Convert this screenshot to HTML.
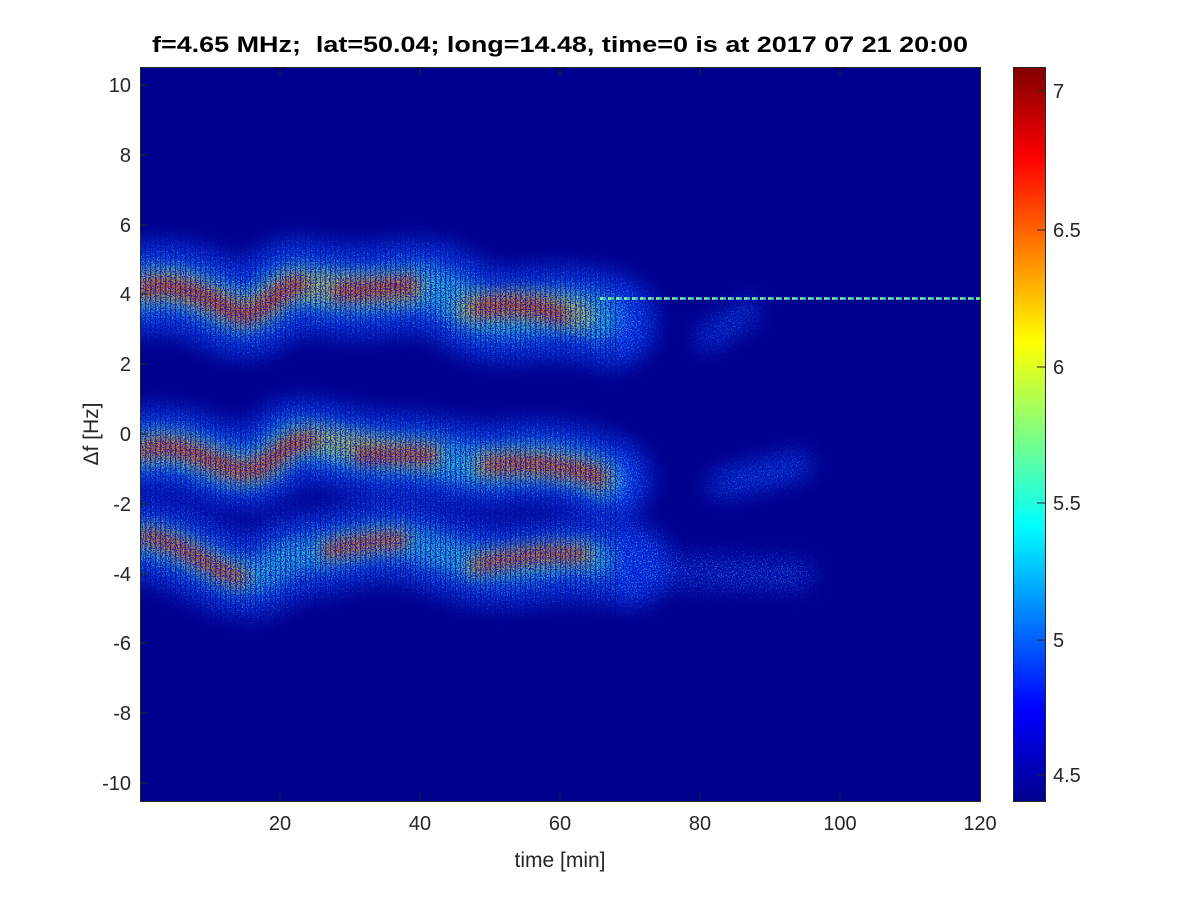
<!DOCTYPE html>
<html><head><meta charset="utf-8"><style>
body{margin:0;background:#fff;}
svg{display:block;font-family:"Liberation Sans",sans-serif;}
</style></head><body>
<svg width="1200" height="900" viewBox="0 0 1200 900">
<defs>
<filter id="b1" x="-20%" y="-50%" width="140%" height="200%"><feGaussianBlur stdDeviation="12"/></filter>
<filter id="b2" x="-20%" y="-50%" width="140%" height="200%"><feGaussianBlur stdDeviation="8"/></filter>
<filter id="b3" x="-20%" y="-50%" width="140%" height="200%"><feGaussianBlur stdDeviation="7"/></filter>
<filter id="noiseC" x="0" y="0" width="100%" height="100%">
<feTurbulence type="fractalNoise" baseFrequency="0.8" numOctaves="1" seed="3"/>
<feColorMatrix values="0 0 0 0 0.2  0 0 0 0 0.9  0 0 0 0 1  0 0 0 5 -2.6"/>
</filter>
<filter id="noiseD" x="0" y="0" width="100%" height="100%">
<feTurbulence type="fractalNoise" baseFrequency="0.85" numOctaves="1" seed="7"/>
<feColorMatrix values="0 0 0 0 0  0 0 0 0 0  0 0 0 0 0.55  0 0 0 5 -2.4"/>
</filter>
<pattern id="stripes" width="5" height="10" patternUnits="userSpaceOnUse"><rect x="0" y="0" width="1.2" height="10" fill="#000050"/></pattern>
<mask id="bandmask" maskUnits="userSpaceOnUse" x="0" y="0" width="1200" height="900">
<g fill="none" stroke="#fff" stroke-linecap="round" filter="url(#b1)">
<path d="M140 290 C180 280 210 300 235 310 S280 280 300 285 S360 295 400 288 S450 300 480 312 S560 300 610 322" stroke-width="80"/>
<path d="M140 450 C180 440 210 465 240 468 S280 440 300 440 S360 455 400 455 S470 470 500 465 S570 460 610 480" stroke-width="70"/>
<path d="M140 540 C180 540 210 570 240 575 S280 555 300 555 S360 540 390 540 S460 565 500 565 S570 550 630 565" stroke-width="75"/>
<path d="M650 570 L800 575" stroke-width="25"/>
<path d="M720 485 L800 465" stroke-width="18"/>
<path d="M705 340 L750 310" stroke-width="16"/>
</g>
</mask>
<linearGradient id="jet" x1="0" y1="0" x2="0" y2="1">
<stop offset="0" stop-color="#800000"/><stop offset="0.125" stop-color="#ff0000"/>
<stop offset="0.375" stop-color="#ffff00"/><stop offset="0.5" stop-color="#80ff80"/><stop offset="0.625" stop-color="#00ffff"/>
<stop offset="0.875" stop-color="#0000ff"/><stop offset="1" stop-color="#00008f"/>
</linearGradient>
<clipPath id="pc"><rect x="140" y="67" width="840" height="734"/></clipPath>
</defs>
<rect x="140" y="67" width="840" height="734" fill="#00008f"/>
<g clip-path="url(#pc)">
<g fill="none" stroke-linecap="round" filter="url(#b1)">
<path d="M140 290 C180 280 210 300 235 310 S280 280 300 285 S360 295 400 288 S450 300 480 312 S560 300 610 322" stroke="#0040f0" stroke-width="85" opacity="0.85"/>
<path d="M140 450 C180 440 210 465 240 468 S280 440 300 440 S360 455 400 455 S470 470 500 465 S570 460 610 480" stroke="#0040f0" stroke-width="75" opacity="0.85"/>
<path d="M140 540 C180 540 210 570 240 575 S280 555 300 555 S360 540 390 540 S460 565 500 565 S570 550 630 565" stroke="#0040f0" stroke-width="75" opacity="0.8"/>
<path d="M720 485 L800 465" stroke="#0050ff" stroke-width="18" opacity="0.7"/>
<path d="M705 340 L750 310" stroke="#0050ff" stroke-width="14" opacity="0.7"/>
<path d="M660 572 L800 575" stroke="#0040e0" stroke-width="20" opacity="0.5"/>
</g>
<g fill="none" stroke-linecap="round" filter="url(#b2)">
<path d="M140 290 C180 280 210 300 235 310 S280 280 300 285 S360 295 400 288 S450 300 480 312 S560 300 600 318" stroke="#20c8e0" stroke-width="42" opacity="0.8"/>
<path d="M140 450 C180 440 210 465 240 468 S280 440 300 440 S360 455 400 455 S470 470 500 465 S570 460 605 480" stroke="#20c8e0" stroke-width="38" opacity="0.8"/>
<path d="M140 540 C180 540 210 570 240 575 S280 555 300 555 S360 540 390 540 S460 565 500 565 S570 550 600 560" stroke="#20c8e0" stroke-width="34" opacity="0.75"/>
</g>
<g fill="none" stroke-linecap="round" filter="url(#b3)">
<path d="M145 288 C180 280 210 300 235 310 S280 282 300 285 S360 292 410 288 M470 308 S530 300 580 315" stroke="#e0c020" stroke-width="30" opacity="0.65"/>
<path d="M145 450 C180 438 210 465 240 470 S280 440 310 440 S380 455 430 455 M485 465 S560 458 600 478" stroke="#e0c020" stroke-width="26" opacity="0.65"/>
<path d="M145 537 C180 540 210 570 240 577 M330 550 S370 540 400 540 M475 565 S540 550 585 555" stroke="#e0c020" stroke-width="22" opacity="0.6"/>
<path d="M145 288 C180 280 210 300 235 312 S280 282 300 285 M340 292 S380 288 410 286 M480 308 S530 300 560 315" stroke="#d01010" stroke-width="20" opacity="0.8"/>
<path d="M145 450 C180 438 210 465 240 470 S280 440 310 440 M360 455 S400 455 430 455 M490 465 S560 458 600 478" stroke="#d01010" stroke-width="18" opacity="0.8"/>
<path d="M145 537 C180 540 210 570 240 577 M330 550 S370 540 400 540 M480 565 S540 550 580 555" stroke="#d01010" stroke-width="16" opacity="0.75"/>
</g>
<g mask="url(#bandmask)">
<rect x="140" y="67" width="840" height="734" filter="url(#noiseC)" opacity="0.7"/>
<rect x="140" y="67" width="840" height="734" filter="url(#noiseD)"/>
<rect x="140" y="200" width="480" height="450" fill="url(#stripes)" opacity="0.5"/>
</g>
<line x1="600" y1="298.5" x2="980" y2="298.5" stroke="#a0ff60" stroke-width="2.5" stroke-dasharray="5 3"/>
<line x1="600" y1="298.5" x2="980" y2="298.5" stroke="#20c0ff" stroke-width="2.5" stroke-dasharray="3 5" stroke-dashoffset="5"/>
</g>
<rect x="140.5" y="67.5" width="840" height="734" fill="none" stroke="#262626" stroke-width="1"/>
<g stroke="#262626" stroke-width="1">
<line x1="280" y1="801" x2="280" y2="793"/><line x1="420" y1="801" x2="420" y2="793"/><line x1="560" y1="801" x2="560" y2="793"/><line x1="700" y1="801" x2="700" y2="793"/><line x1="840" y1="801" x2="840" y2="793"/>
<line x1="280" y1="67" x2="280" y2="75"/><line x1="420" y1="67" x2="420" y2="75"/><line x1="560" y1="67" x2="560" y2="75"/><line x1="700" y1="67" x2="700" y2="75"/><line x1="840" y1="67" x2="840" y2="75"/>
<line x1="140" y1="85" x2="148" y2="85"/><line x1="140" y1="155" x2="148" y2="155"/><line x1="140" y1="225" x2="148" y2="225"/><line x1="140" y1="294" x2="148" y2="294"/><line x1="140" y1="364" x2="148" y2="364"/><line x1="140" y1="434" x2="148" y2="434"/><line x1="140" y1="504" x2="148" y2="504"/><line x1="140" y1="574" x2="148" y2="574"/><line x1="140" y1="643" x2="148" y2="643"/><line x1="140" y1="713" x2="148" y2="713"/><line x1="140" y1="783" x2="148" y2="783"/>
</g>
<g font-size="20" fill="#262626" text-anchor="end">
<text x="131" y="92">10</text><text x="131" y="162">8</text><text x="131" y="232">6</text><text x="131" y="301">4</text><text x="131" y="371">2</text><text x="131" y="441">0</text><text x="131" y="511">-2</text><text x="131" y="581">-4</text><text x="131" y="650">-6</text><text x="131" y="720">-8</text><text x="131" y="790">-10</text>
</g>
<g font-size="20" fill="#262626" text-anchor="middle">
<text x="280" y="830">20</text><text x="420" y="830">40</text><text x="560" y="830">60</text><text x="700" y="830">80</text><text x="840" y="830">100</text><text x="980" y="830">120</text>
<text x="560" y="867" font-size="21">time [min]</text>
</g>
<text transform="translate(98,434) rotate(-90)" font-size="21" fill="#262626" text-anchor="middle">Δf [Hz]</text>
<text x="152" y="52" font-size="22" font-weight="bold" fill="#000" textLength="816" lengthAdjust="spacingAndGlyphs" style="white-space:pre">f=4.65 MHz;  lat=50.04; long=14.48, time=0 is at 2017 07 21 20:00</text>
<rect x="1013" y="67" width="32" height="734" fill="url(#jet)"/>
<rect x="1013.5" y="67.5" width="32" height="734" fill="none" stroke="#262626"/>
<g stroke="#262626"><line x1="1037" y1="91" x2="1045" y2="91"/><line x1="1037" y1="230" x2="1045" y2="230"/><line x1="1037" y1="367" x2="1045" y2="367"/><line x1="1037" y1="503" x2="1045" y2="503"/><line x1="1037" y1="640" x2="1045" y2="640"/><line x1="1037" y1="775" x2="1045" y2="775"/></g>
<g font-size="20" fill="#262626">
<text x="1053" y="98">7</text><text x="1053" y="237">6.5</text><text x="1053" y="374">6</text><text x="1053" y="510">5.5</text><text x="1053" y="647">5</text><text x="1053" y="782">4.5</text>
</g>
</svg>
</body></html>
